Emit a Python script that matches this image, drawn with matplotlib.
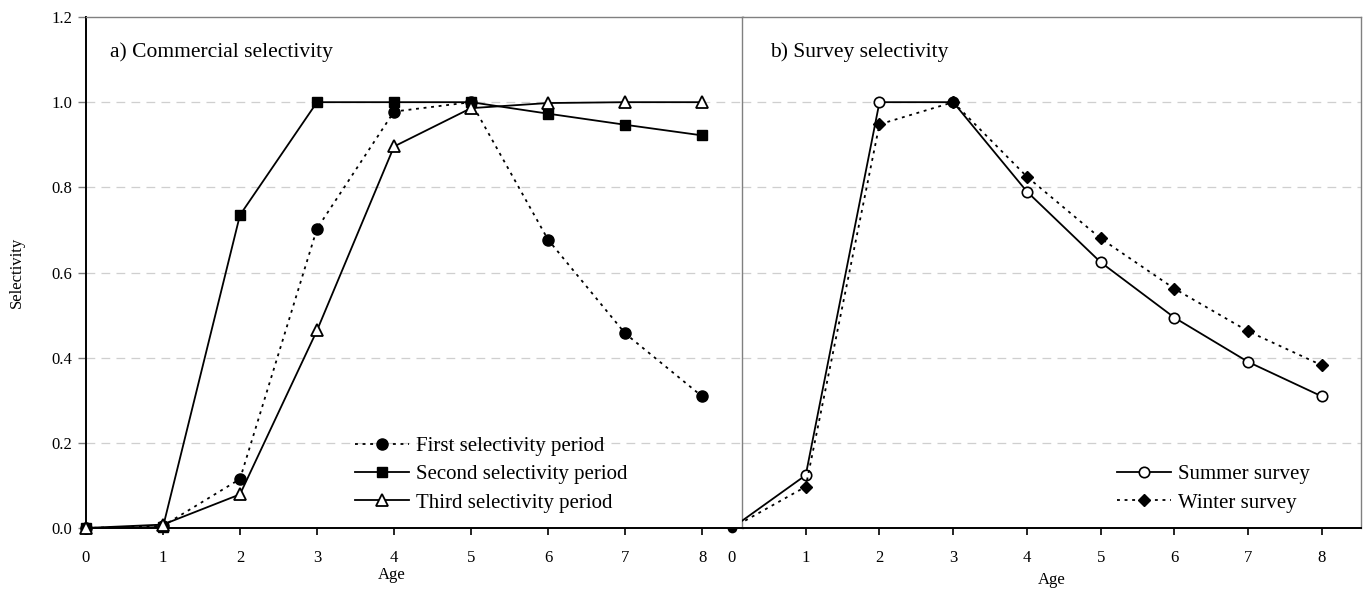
import numpy as np
import matplotlib
matplotlib.use('Agg')
import matplotlib.pyplot as plt
from matplotlib.transforms import blended_transform_factory

plt.rcParams['font.family'] = ['Liberation Serif', 'DejaVu Serif']

ages = [0, 1, 2, 3, 4, 5, 6, 7, 8]

# commercial selectivity by period
first_period = [0.0, 0.005, 0.115, 0.703, 0.978, 1.0, 0.677, 0.457, 0.309]
second_period = [0.0, 0.002, 0.735, 1.0, 1.0, 1.0, 0.973, 0.947, 0.922]
third_period = [0.0, 0.008, 0.079, 0.464, 0.896, 0.986, 0.998, 1.0, 1.0]

# survey selectivity
summer_survey = [0.0, 0.124, 1.0, 1.0, 0.790, 0.624, 0.494, 0.390, 0.309]
winter_survey = [0.0, 0.097, 0.948, 1.0, 0.825, 0.680, 0.562, 0.462, 0.382]

yticks = [0.0, 0.2, 0.4, 0.6, 0.8, 1.0, 1.2]
grid_levels = [0.2, 0.4, 0.6, 0.8, 1.0]

GRAY = '#808080'
GRID = '#cfcfcf'
DOT = (0, (1.6, 2.6))


def style_axes(ax, left_black):
    for s in ['top', 'right']:
        ax.spines[s].set_color(GRAY)
        ax.spines[s].set_linewidth(1.0)
    ax.spines['bottom'].set_color('black')
    ax.spines['bottom'].set_linewidth(1.4)
    if left_black:
        ax.spines['left'].set_color('black')
        ax.spines['left'].set_linewidth(1.4)
    else:
        ax.spines['left'].set_color(GRAY)
        ax.spines['left'].set_linewidth(1.0)
    for g in grid_levels:
        ax.axhline(g, color=GRID, lw=0.9, ls=(0, (7, 5)), zorder=0)
    ax.set_ylim(0, 1.2)
    ax.set_xticks(ages)
    ax.tick_params(axis='x', direction='out', length=5, width=1.2,
                   pad=11, labelsize=12)


fig = plt.figure(figsize=(13.64, 5.91), dpi=100)
ax1 = fig.add_axes([0.0630, 0.1066, 0.4817, 0.8646])
ax2 = fig.add_axes([0.5440, 0.1066, 0.4538, 0.8646])

# a) commercial
style_axes(ax1, True)
ax1.set_xlim(0, 8.53)
ax1.set_yticks(yticks)
ax1.set_yticklabels(['%.1f' % v for v in yticks])
ax1.tick_params(axis='y', direction='out', length=6, width=1.0,
                pad=4, labelsize=12, color=GRAY)

ax1.plot(ages, first_period, color='black', lw=1.3, ls=DOT, marker='o',
         ms=8, mfc='black', mec='black', clip_on=False, zorder=3,
         label='First selectivity period')
ax1.plot(ages, second_period, color='black', lw=1.3, marker='s',
         ms=7.5, mfc='black', mec='black', clip_on=False, zorder=3,
         label='Second selectivity period')
ax1.plot(ages, third_period, color='black', lw=1.3, marker='^',
         ms=8.5, mfc='white', mec='black', mew=1.3, clip_on=False,
         zorder=4, label='Third selectivity period')

ax1.text(0.0365, 0.932, 'a) Commercial selectivity', transform=ax1.transAxes,
         fontsize=15.5, va='center', ha='left')
ax1.set_xlabel('Age', fontsize=12)
ax1.xaxis.set_label_coords(0.466, -0.076)
ax1.set_ylabel('Selectivity', fontsize=12)
ax1.yaxis.set_label_coords(-0.093, 0.5)
ax1.legend(loc='lower left', bbox_to_anchor=(0.409, 0.03), frameon=False,
           fontsize=15, handlelength=2.6, handletextpad=0.35,
           labelspacing=0.42, borderpad=0, borderaxespad=0)

# b) survey
style_axes(ax2, False)
ax2.set_xlim(0.136, 8.53)
ax2.set_yticks([])

ax2.plot(ages, summer_survey, color='black', lw=1.3, marker='o',
         ms=7.5, mfc='white', mec='black', mew=1.2, zorder=3,
         label='Summer survey')
ax2.plot(ages, winter_survey, color='black', lw=1.3, ls=DOT, marker='D',
         ms=6.5, mfc='black', mec='black', zorder=3,
         label='Winter survey')
# age-0 winter point sits on the panel edge, only its lower half shows
ax2.plot(ages[:1], winter_survey[:1], ls='none', marker='o', ms=7,
         fillstyle='bottom', mfc='black', mfcalt='none', mec='none',
         clip_on=False, zorder=1)

trans = blended_transform_factory(ax2.transData, ax2.transAxes)
ax2.text(ages[0], -0.044, '0', transform=trans, fontsize=12,
         ha='center', va='top')

ax2.text(0.045, 0.932, 'b) Survey selectivity', transform=ax2.transAxes,
         fontsize=15.5, va='center', ha='left')
ax2.set_xlabel('Age', fontsize=12)
ax2.xaxis.set_label_coords(0.50, -0.086)
ax2.legend(loc='lower left', bbox_to_anchor=(0.605, 0.03), frameon=False,
           fontsize=15, handlelength=2.6, handletextpad=0.35,
           labelspacing=0.42, borderpad=0, borderaxespad=0)

fig.savefig('out.png', dpi=100)
